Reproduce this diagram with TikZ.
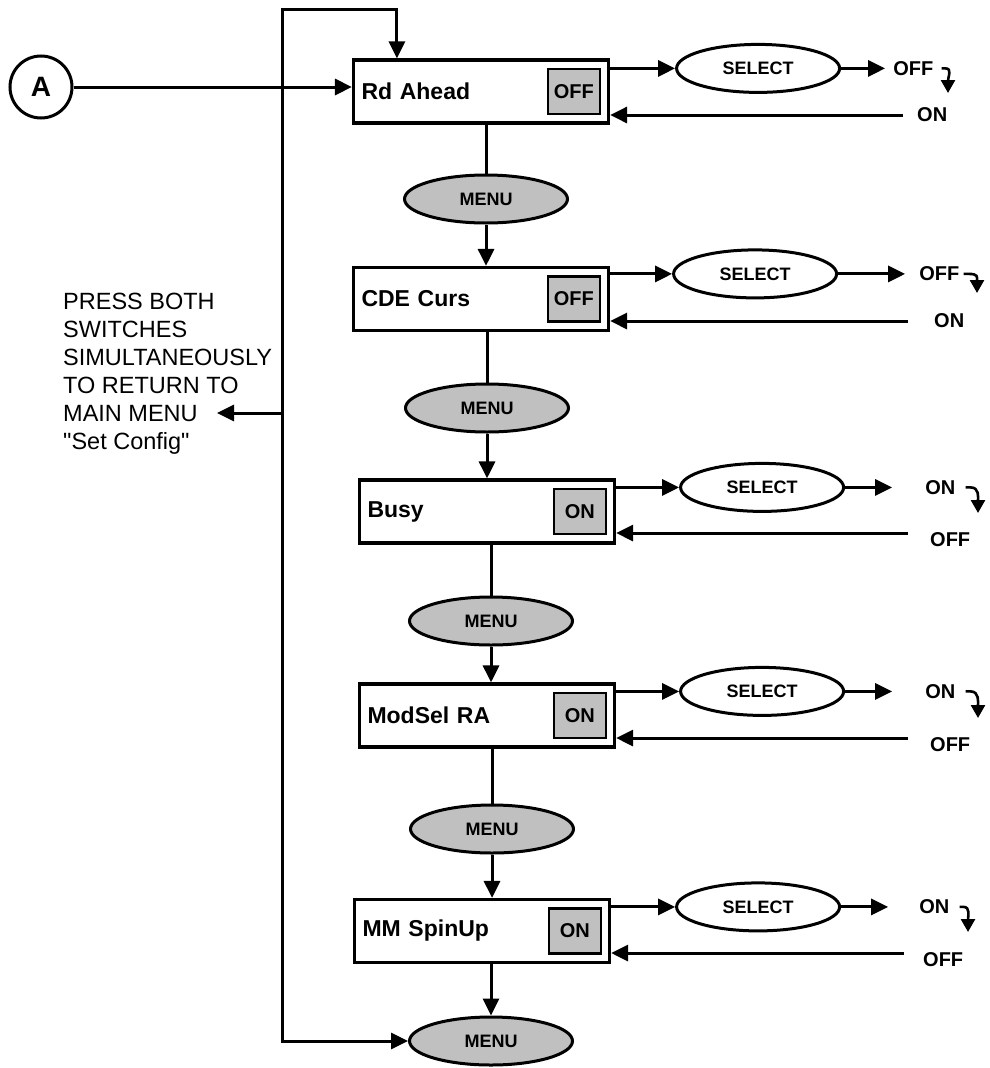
\documentclass[tikz,border=0pt]{standalone}
\usepackage{fontspec}
\setmainfont{Liberation Sans}
\usetikzlibrary{shapes.geometric,arrows.meta,positioning}
\definecolor{btngray}{HTML}{C0C0C0}

\tikzstyle{block} = [rectangle, draw, fill=white, line width=3.2pt, text width=239pt, inner xsep=8pt, align=left, minimum height=63pt, font=\fontsize{23}{26}\selectfont\bfseries]
\tikzstyle{statebox} = [rectangle, draw, fill=btngray, line width=2.4pt, minimum width=52pt, minimum height=45pt, inner sep=0pt, font=\fontsize{20}{22}\selectfont\bfseries]
\tikzstyle{menubtn} = [ellipse, draw, fill=btngray, line width=3pt, minimum width=163pt, minimum height=48pt, inner sep=0pt, font=\fontsize{18}{20}\selectfont\bfseries]
\tikzstyle{selectbtn} = [menubtn, fill=white]
\tikzstyle{opt} = [inner sep=0pt, font=\fontsize{20}{22}\selectfont\bfseries]
\tikzstyle{arrow} = [line width=3pt, ->, >={Triangle[length=17pt,width=16pt]}]
\tikzstyle{hookarrow} = [line width=2.6pt, ->, >={Triangle[length=13pt,width=14pt]}]

\begin{document}
\begin{tikzpicture}[x=1pt, y=-1pt, node distance=105pt]
    \useasboundingbox (0,0) rectangle (989,1068);

    % left side
    \node (a) [circle, draw, line width=3pt, minimum size=62pt, inner sep=0pt, font=\fontsize{28}{30}\selectfont\bfseries] at (41,87) {A};
    \node (back) [anchor=north west, inner sep=0pt, align=left, font=\fontsize{23.5}{28}\selectfont] at (63,293) {PRESS BOTH\\SWITCHES\\SIMULTANEOUSLY\\TO RETURN TO\\MAIN MENU\\\textquotedbl Set Config\textquotedbl};
    \coordinate (top) at (282,9);
    \coordinate (mm) at (217,413);

    % menu chain
    \node (rd) [block] at (481,91.5) {Rd Ahead};
    \node (menu1) [menubtn, below of=rd, xshift=5pt, yshift=-2.5pt] {MENU};
    \node (cde) [block, below of=menu1, xshift=-5pt, yshift=5pt] {CDE Curs};
    \node (menu2) [menubtn, below of=cde, xshift=6pt, yshift=-4pt] {MENU};
    \node (busy) [block, below of=menu2, yshift=1.5pt] {Busy};
    \node (menu3) [menubtn, below of=busy, xshift=4pt, yshift=-4.5pt] {MENU};
    \node (modsel) [block, below of=menu3, xshift=-4pt, yshift=10.5pt] {ModSel RA};
    \node (menu4) [menubtn, below of=modsel, xshift=5pt, yshift=-8.5pt] {MENU};
    \node (spin) [block, below of=menu4, xshift=-10pt, yshift=3pt] {MM SpinUp};
    \node (menu5) [menubtn, below of=spin, xshift=9pt, yshift=-5pt] {MENU};

    % current setting
    \node (rdstate) [statebox, left=9pt of rd.east] {OFF};
    \node (cdestate) [statebox, left=9pt of cde.east] {OFF};
    \node (busystate) [statebox, left=9pt of busy.east] {ON};
    \node (modselstate) [statebox, left=9pt of modsel.east] {ON};
    \node (spinstate) [statebox, left=9pt of spin.east] {ON};

    % select buttons
    \node (sel1) [selectbtn, right=65pt of rd.north east, yshift=-10pt] {SELECT};
    \node (sel2) [selectbtn, right=62pt of cde.north east, yshift=-8pt] {SELECT};
    \node (sel3) [selectbtn, right=63pt of busy.north east, yshift=-9pt] {SELECT};
    \node (sel4) [selectbtn, right=63pt of modsel.north east, yshift=-9pt] {SELECT};
    \node (sel5) [selectbtn, right=64pt of spin.north east, yshift=-9pt] {SELECT};

    \node (off1) [opt, right=52pt of sel1.east] {OFF};
    \node (off2) [opt, right=81pt of sel2.east] {OFF};
    \node (on3) [opt, right=80pt of sel3.east] {ON};
    \node (on4) [opt, right=80pt of sel4.east] {ON};
    \node (on5) [opt, right=78pt of sel5.east] {ON};

    \node (on1) [opt, anchor=west] at (917,115) {ON};
    \node (on2) [opt, anchor=west] at (934,321) {ON};
    \node (off3) [opt, anchor=west] at (930,540) {OFF};
    \node (off4) [opt, anchor=west] at (930,745) {OFF};
    \node (off5) [opt, anchor=west] at (923,960) {OFF};

    \coordinate (r1) at (903,115);
    \coordinate (r2) at (908,321);
    \coordinate (r3) at (908,533);
    \coordinate (r4) at (908,738);
    \coordinate (r5) at (904,953);

    \coordinate (h1) at (948,93);
    \coordinate (h2) at (977,293);
    \coordinate (h3) at (978,513);
    \coordinate (h4) at (978,718);
    \coordinate (h5) at (968,932);

    % connectors
    \draw [arrow] (a) -- (a -| rd.west);
    \draw [arrow, <->] ([xshift=45pt]rd.north west) |- (top) |- (menu5.west);
    \draw [arrow] (top |- mm) -- (mm);

    \draw [line width=3pt] (rd.south -| menu1) -- (menu1);
    \draw [arrow] (menu1) -- (menu1 |- cde.north);
    \draw [line width=3pt] (cde.south -| menu2) -- (menu2);
    \draw [arrow] (menu2) -- (menu2 |- busy.north);
    \draw [line width=3pt] (busy.south -| menu3) -- (menu3);
    \draw [arrow] (menu3) -- (menu3 |- modsel.north);
    \draw [line width=3pt] (modsel.south -| menu4) -- (menu4);
    \draw [arrow] (menu4) -- (menu4 |- spin.north);
    \draw [arrow] (spin.south -| menu5) -- (menu5);

    \draw [arrow] (rd.east |- sel1) -- (sel1);
    \draw [arrow] (cde.east |- sel2) -- (sel2);
    \draw [arrow] (busy.east |- sel3) -- (sel3);
    \draw [arrow] (modsel.east |- sel4) -- (sel4);
    \draw [arrow] (spin.east |- sel5) -- (sel5);

    \draw [arrow] (sel1) -- ([xshift=-8pt]off1.west);
    \draw [arrow] (sel2) -- ([xshift=-14pt]off2.west);
    \draw [arrow] (sel3) -- ([xshift=-33pt]on3.west);
    \draw [arrow] (sel4) -- ([xshift=-33pt]on4.west);
    \draw [arrow] (sel5) -- ([xshift=-31pt]on5.west);

    \draw [hookarrow] ([xshift=8pt]off1.east) -- ++(4,0) .. controls +(7,0) and +(0,-16) .. (h1);
    \draw [hookarrow] ([xshift=4pt]off2.east) -- ++(5,0) .. controls +(10,0) and +(0,-16) .. (h2);
    \draw [hookarrow] ([xshift=10pt]on3.east) -- ++(5,0) .. controls +(9,0) and +(0,-16) .. (h3);
    \draw [hookarrow] ([xshift=10pt]on4.east) -- ++(5,0) .. controls +(9,0) and +(0,-16) .. (h4);
    \draw [hookarrow] ([xshift=10pt]on5.east) -- ++(4,0) .. controls +(7,0) and +(0,-16) .. (h5);

    \draw [arrow] (r1) -- (r1 -| rd.east);
    \draw [arrow] (r2) -- (r2 -| cde.east);
    \draw [arrow] (r3) -- (r3 -| busy.east);
    \draw [arrow] (r4) -- (r4 -| modsel.east);
    \draw [arrow] (r5) -- (r5 -| spin.east);
\end{tikzpicture}
\end{document}
